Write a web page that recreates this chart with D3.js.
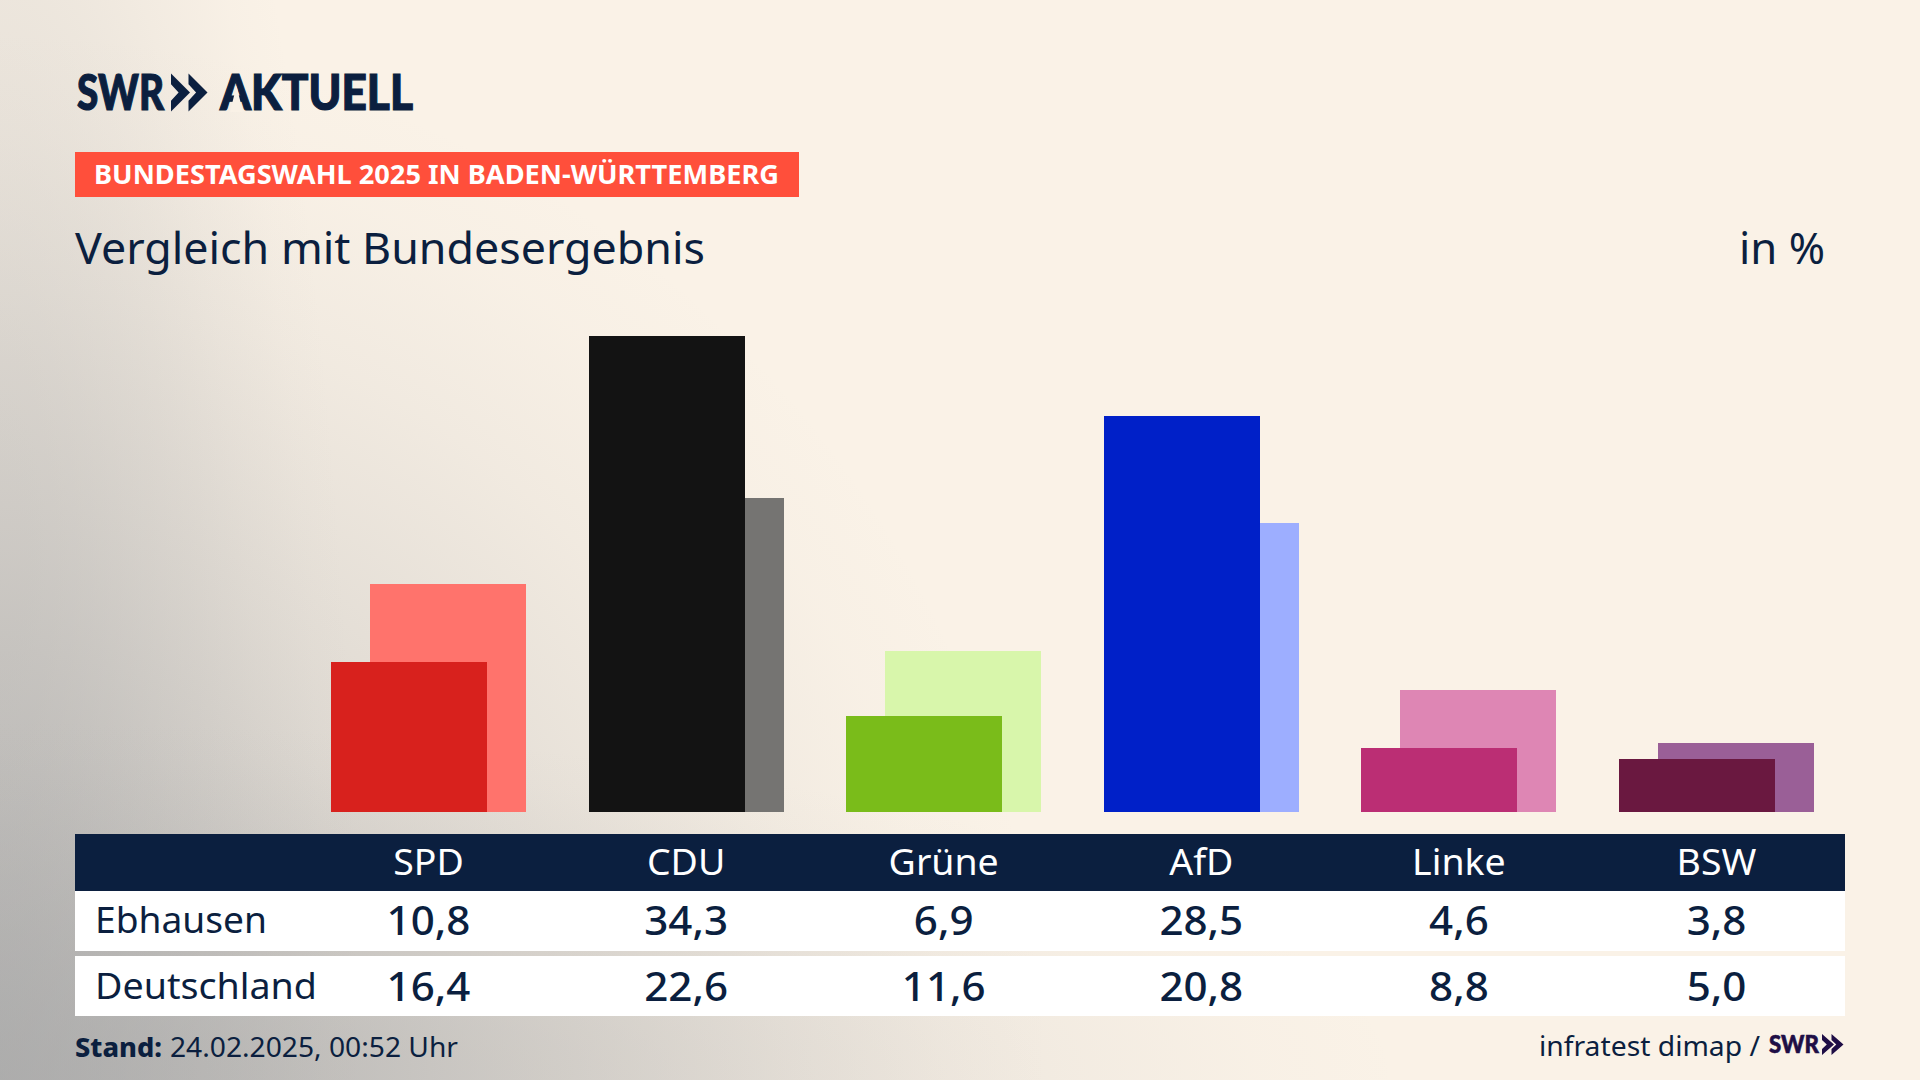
<!DOCTYPE html>
<html lang="de"><head><meta charset="utf-8">
<script src="https://cdn.jsdelivr.net/npm/d3@7"></script>
<style>html,body{margin:0;padding:0;background:#faf2e7}svg{display:block}text{font-family:"Noto Sans",sans-serif}</style>
</head><body><svg id="c" width="1920" height="1080"></svg>
<script>
const parties = ["SPD","CDU","Grüne","AfD","Linke","BSW"];
const localName = "Ebhausen";
const nationName = "Deutschland";
const localValues = [10.8,34.3,6.9,28.5,4.6,3.8];
const nationValues = [16.4,22.6,11.6,20.8,8.8,5.0];
const localColors = ["#d8211d","#131313","#7abc1a","#0020c8","#bb2e74","#6a1840"];
const nationColors = ["#ff736c","#757472","#d8f6ab","#9daeff","#de86b4","#9a5f97"];
const navy = "#0b1f3f";
const fmt = v => v.toFixed(1).replace(".",",");

const svg = d3.select("#c");
const defs = svg.append("defs");
svg.append("rect").attr("width",1920).attr("height",1080).attr("fill","#faf2e7");
const falloff = [[0,1],[.25,.72],[.5,.42],[.75,.16],[.9,.04],[1,0]];
[["main",1050,1050,.7],["left",360,1700,.6],["bottom",1400,360,.6]].forEach(([id,rx,ry,a])=>{
  const g = defs.append("radialGradient").attr("id",id).attr("gradientUnits","userSpaceOnUse")
    .attr("cx",0).attr("cy",0).attr("r",1)
    .attr("gradientTransform",`translate(0 1080) scale(${rx} ${ry})`);
  falloff.forEach(([o,k])=>g.append("stop").attr("offset",o).attr("stop-color","#a9a9a9").attr("stop-opacity",a*k));
  svg.append("rect").attr("width",1920).attr("height",1080).attr("fill",`url(#${id})`);
});

function t(s,x,y,size,opt={}){
  const e = svg.append("text").attr("x",x).attr("y",y).attr("font-size",size)
    .attr("fill",opt.fill||navy).attr("font-weight",opt.weight||400)
    .attr("text-anchor",opt.anchor||"start").text(s);
  if(opt.family) e.style("font-family",opt.family);
  if(opt.stroke) e.attr("stroke",opt.fill||navy).attr("stroke-width",opt.stroke);
  const w = opt.width || (opt.stretch ? e.node().getComputedTextLength()*opt.stretch : 0);
  if(w) e.attr("textLength",w).attr("lengthAdjust","spacingAndGlyphs");
  return e;
}
function chevrons(x,y,h,w,step,fill){
  const line = d3.line();
  [0,1].forEach(i=>{
    const x0 = x+i*step;
    svg.append("path").attr("fill",fill).attr("d",line([
      [x0,y],[x0+w,y+h/2],[x0,y+h],[x0,y+h*.72],[x0+w*.4,y+h/2],[x0,y+h*.28]])+"Z");
  });
}

// header
const logoFont = '"Lato",sans-serif';
t("SWR",77,110,49,{weight:900,width:87,family:logoFont,stroke:1.2});
chevrons(171,73.5,38,19,17.5,navy);
t("AKTUELL",220,110,49,{weight:900,width:193,family:logoFont,stroke:1.2});
svg.append("path").attr("fill","#f9f1e6").attr("d",d3.line()([[236.5,86],[230,112],[243,112]])+"Z");
svg.append("rect").attr("x",75).attr("y",152).attr("width",724).attr("height",45).attr("fill","#ff4f3b");
t("BUNDESTAGSWAHL 2025 IN BADEN-WÜRTTEMBERG",94,184,26,{fill:"#fff",weight:700,width:685});
t("Vergleich mit Bundesergebnis",75,264,44,{width:630});
t("in %",1739,264,44,{width:86});

// bars
const x = d3.scaleBand().domain(parties).range([331,1814]).paddingInner(.243);
const y = d3.scaleLinear().domain([0,34.3]).range([812,336]);
const barW = x.bandwidth()*.8, off = x.bandwidth()*.2;
svg.selectAll(".nat").data(parties).join("rect").attr("class","nat")
  .attr("shape-rendering","crispEdges")
  .attr("x",d=>x(d)+off).attr("width",barW)
  .attr("y",(d,i)=>y(nationValues[i])).attr("height",(d,i)=>y(0)-y(nationValues[i]))
  .attr("fill",(d,i)=>nationColors[i]);
svg.selectAll(".loc").data(parties).join("rect").attr("class","loc")
  .attr("shape-rendering","crispEdges")
  .attr("x",d=>x(d)).attr("width",barW)
  .attr("y",(d,i)=>y(localValues[i])).attr("height",(d,i)=>y(0)-y(localValues[i]))
  .attr("fill",(d,i)=>localColors[i]);

// table
const cx = d => x(d)+x.bandwidth()/2;
svg.append("rect").attr("x",75).attr("y",834).attr("width",1770).attr("height",57).attr("fill",navy);
svg.append("rect").attr("x",75).attr("y",891).attr("width",1770).attr("height",60).attr("fill","#fff");
svg.append("rect").attr("x",75).attr("y",956).attr("width",1770).attr("height",60).attr("fill","#fff");
parties.forEach((p,i)=>{
  t(p,cx(p),875,36,{fill:"#fff",anchor:"middle",stretch:1.04});
  t(fmt(localValues[i]),cx(p),935,39,{anchor:"middle",stretch:1.08,weight:500});
  t(fmt(nationValues[i]),cx(p),1001,39,{anchor:"middle",stretch:1.08,weight:500});
});
t(localName,95,933,37,{width:172});
t(nationName,95,999,37,{width:222});

// footer
t("Stand:",75,1057,27,{weight:800,width:87});
t("24.02.2025, 00:52 Uhr",170,1057,27,{width:288});
t("infratest dimap /",1539,1056,27,{width:221});
t("SWR",1769,1053,24,{weight:900,fill:"#1f0e46",width:50,family:logoFont,stroke:.6});
chevrons(1822,1034,21,12,9.5,"#1f0e46");
</script></body></html>
